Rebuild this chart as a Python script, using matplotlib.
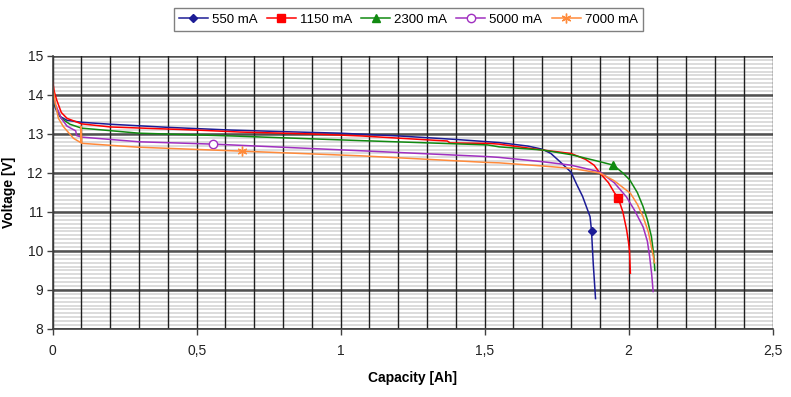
import numpy as np
import matplotlib.pyplot as plt

# discharge curves (capacity [Ah], voltage [V])
x_550 = [0, 0.01, 0.025, 0.05, 0.1, 0.2, 0.4, 0.62, 0.8, 1.0, 1.2, 1.4, 1.55, 1.65, 1.7,
         1.73, 1.76, 1.8, 1.82, 1.84, 1.855, 1.866, 1.871, 1.877, 1.885]
v_550 = [13.9, 13.65, 13.45, 13.35, 13.3, 13.25, 13.17, 13.1, 13.06, 13.02, 12.95, 12.86,
         12.78, 12.69, 12.61, 12.5, 12.3, 12.02, 11.7, 11.4, 11.1, 10.88, 10.52, 9.68, 8.78]

x_1150 = [0, 0.005, 0.014, 0.03, 0.05, 0.1, 0.2, 0.5, 0.65, 0.9, 1.07, 1.3, 1.37, 1.38,
          1.51, 1.55, 1.7, 1.8, 1.85, 1.88, 1.9, 1.93, 1.95, 1.964, 1.98, 1.993, 2.0,
          2.003, 2.006]
v_1150 = [14.35, 14.1, 13.87, 13.55, 13.4, 13.26, 13.18, 13.1, 13.05, 13.0, 12.95, 12.85,
          12.82, 12.77, 12.76, 12.74, 12.59, 12.5, 12.35, 12.2, 12.0, 11.75, 11.5, 11.35,
          11.0, 10.54, 10.2, 10.0, 9.43]

x_2300 = [0, 0.01, 0.03, 0.06, 0.1, 0.3, 0.62, 1.07, 1.51, 1.55, 1.7, 1.8, 1.9, 1.947,
          1.98, 2.004, 2.03, 2.05, 2.065, 2.079, 2.087, 2.091]
v_2300 = [14.0, 13.7, 13.4, 13.25, 13.15, 13.02, 12.95, 12.83, 12.72, 12.67, 12.59, 12.47,
          12.29, 12.2, 12.0, 11.82, 11.5, 11.14, 10.8, 10.37, 9.9, 9.5]

x_5000 = [0, 0.01, 0.03, 0.05, 0.08, 0.083, 0.1, 0.3, 0.557, 0.62, 1.07, 1.51, 1.55, 1.7,
          1.8, 1.9, 1.95, 1.992, 2.02, 2.05, 2.065, 2.073, 2.08, 2.085]
v_5000 = [14.1, 13.75, 13.4, 13.2, 13.08, 12.96, 12.92, 12.8, 12.74, 12.72, 12.57, 12.42,
          12.4, 12.29, 12.2, 12.03, 11.75, 11.39, 11.05, 10.62, 10.25, 9.85, 9.4, 8.96]

x_7000 = [0, 0.01, 0.02, 0.037, 0.072, 0.097, 0.099, 0.101, 0.3, 0.656, 1.07, 1.51, 1.55,
          1.7, 1.8, 1.9, 1.95, 2.006, 2.03, 2.05, 2.068, 2.079, 2.09]
v_7000 = [14.2, 13.75, 13.4, 13.19, 12.89, 12.78, 13.2, 12.76, 12.66, 12.56, 12.44, 12.27,
          12.26, 12.18, 12.12, 12.0, 11.8, 11.48, 11.2, 10.88, 10.5, 10.11, 9.7]

labels = ['550 mA', '1150 mA', '2300 mA', '5000 mA', '7000 mA']
mark_idx = [[22], [23], [13], [8], [9]]
xticks = [0, 0.5, 1, 1.5, 2, 2.5]
xticklabels = ['0', '0,5', '1', '1,5', '2', '2,5']
yticks = [8, 9, 10, 11, 12, 13, 14, 15]

plt.rcParams['font.family'] = ['Liberation Sans', 'DejaVu Sans']

fig = plt.figure(figsize=(7.91, 3.97), dpi=100)
ax = fig.add_axes([0.0666, 0.1713, 0.9102, 0.6877])

# grid: light minor rows, dark major rows, black columns
for v in np.arange(8, 15.01, 0.1):
    ax.axhline(v, color='#d6d6d6', lw=1.2, zorder=0)
for v in yticks:
    ax.axhline(v, color='#505050', lw=1.8, zorder=0.5)
for c in np.arange(0, 2.51, 0.1):
    ax.axvline(c, color='#202020', lw=1.0, zorder=0.6)

ax.plot(x_550, v_550, color='#1c1c96', lw=1.1, marker='D', ms=4.5,
        markevery=mark_idx[0], label=labels[0])
ax.plot(x_1150, v_1150, color='#ff0000', lw=1.1, marker='s', ms=5.5,
        markevery=mark_idx[1], label=labels[1])
ax.plot(x_2300, v_2300, color='#118a11', lw=1.1, marker='^', ms=6,
        markevery=mark_idx[2], label=labels[2])
ax.plot(x_5000, v_5000, color='#a030c0', lw=1.1, marker='o', ms=6, mfc='white',
        markevery=mark_idx[3], label=labels[3])
ax.plot(x_7000, v_7000, color='#ff8a3a', lw=1.1, marker=(6, 2, 0), ms=7, mew=1,
        markevery=mark_idx[4], label=labels[4])

ax.set_xlim(0, 2.5)
ax.set_ylim(8, 15)
ax.set_xticks(xticks)
ax.set_xticklabels(xticklabels)
ax.set_yticks(yticks)
ax.tick_params(axis='x', length=4, width=1, color='#404040', pad=7, labelsize=10,
               labelcolor='#222222')
ax.tick_params(axis='y', length=4, width=1, color='#404040', pad=3, labelsize=10,
               labelcolor='#222222')

for s in ['top', 'right']:
    ax.spines[s].set_visible(False)
for s in ['left', 'bottom']:
    ax.spines[s].set_color('#404040')
    ax.spines[s].set_linewidth(1.2)

ax.set_xlabel('Capacity [Ah]', fontsize=10, fontweight='bold', labelpad=9)
ax.set_ylabel('Voltage [V]', fontsize=10, fontweight='bold', labelpad=8)

leg = fig.legend(loc='center', bbox_to_anchor=(0.516, 0.95), ncol=5, fontsize=9.5,
                 frameon=True, fancybox=False, edgecolor='#606060', handlelength=2.2,
                 handletextpad=0.3, columnspacing=0.7, borderpad=0.4)
leg.get_frame().set_linewidth(1.0)

fig.savefig('out.png', dpi=100)
